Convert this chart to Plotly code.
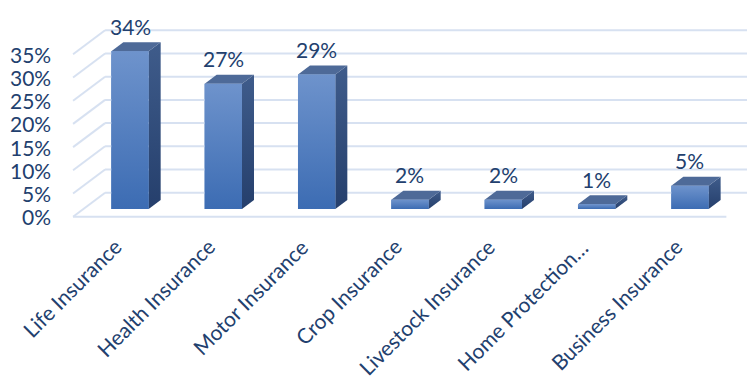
import plotly.graph_objects as go

# ---- data ----
categories = ["Life Insurance", "Health Insurance", "Motor Insurance", "Crop Insurance",
              "Livestock Insurance", "Home Protection…", "Business Insurance"]
shares = [34, 27, 29, 2, 2, 1, 5]
grid_values = [0, 5, 10, 15, 20, 25, 30, 35]
grid_labels = ["0%", "5%", "10%", "15%", "20%", "25%", "30%", "35%"]

# ---- layout geometry (pixels) ----
W, H = 747, 376
PX_PER_CAT = 93.33            # horizontal pixels per category
PX_PER_PCT = 4.64             # vertical pixels per percentage point
X0_PX = 130                   # pixel of the first category centre
Y0_PX = 209                   # pixel of 0% on the bar front plane
LABEL_TOP_PX = 231            # top edge of the slanted category label boxes

# depth planes expressed as vertical pixel offsets of the oblique projection
FLOOR_FRONT = -7.7
BAR_BACK = 9.0
WALL = 16.3
BAR_HALF = 0.2

TEXT = "#22406E"
GRID = "#D7E1F1"
FONT = "Lato"
FS = 21


def proj(x, y, depth):
    """Oblique projection: move a point back by `depth` pixels of depth."""
    return x + depth * 4.0 / 3.0 / PX_PER_CAT, y + depth / PX_PER_PCT


def poly(points):
    xs, ys = zip(*[proj(*p) for p in points])
    return list(xs) + [xs[0]], list(ys) + [ys[0]]


fig = go.Figure()

# walls: back gridlines, left wall diagonals and the floor front edge
n = len(categories)
for v in grid_values:
    xa, ya = proj(-0.5, v, WALL)
    xb, yb = proj(n, v, WALL)
    fig.add_trace(go.Scatter(x=[xa, xb], y=[ya, yb], mode="lines",
                             line=dict(color=GRID, width=2), hoverinfo="skip", showlegend=False))
    xc, yc = proj(-0.5, v, FLOOR_FRONT)
    fig.add_trace(go.Scatter(x=[xc, xa], y=[yc, ya], mode="lines",
                             line=dict(color=GRID, width=2), hoverinfo="skip", showlegend=False))
xf0, yf0 = proj(-0.5, 0, FLOOR_FRONT)
xf1, yf1 = proj(n - 0.5, 0, FLOOR_FRONT)
fig.add_trace(go.Scatter(x=[xf0, xf1], y=[yf0, yf1], mode="lines",
                         line=dict(color=GRID, width=2), hoverinfo="skip", showlegend=False))

# bar front faces
fig.add_trace(go.Bar(x=list(range(n)), y=shares, width=2 * BAR_HALF,
                     marker=dict(color="#4F7EC0", line=dict(width=0)),
                     hovertemplate="%{text}: %{y}%<extra></extra>", text=categories,
                     textposition="none", showlegend=False))

# 3D faces of each bar
for i, v in enumerate(shares):
    l, r = i - BAR_HALF, i + BAR_HALF
    # side
    sx, sy = poly([(r, 0, 0), (r, v, 0), (r, v, BAR_BACK), (r, 0, BAR_BACK)])
    fig.add_trace(go.Scatter(x=sx, y=sy, mode="lines", fill="toself", line=dict(width=0),
                             fillgradient=dict(type="vertical",
                                               colorscale=[[0, "#253F6C"], [1, "#3F5C8B"]]),
                             hoverinfo="skip", showlegend=False))
    # top
    tx, ty = poly([(l, v, 0), (r, v, 0), (r, v, BAR_BACK), (l, v, BAR_BACK)])
    fig.add_trace(go.Scatter(x=tx, y=ty, mode="lines", fill="toself", line=dict(width=0),
                             fillcolor="#4E6A98", hoverinfo="skip", showlegend=False))
    # front, shaded top to bottom
    fx, fy = poly([(l, 0, 0), (r, 0, 0), (r, v, 0), (l, v, 0)])
    fig.add_trace(go.Scatter(x=fx, y=fy, mode="lines", fill="toself", line=dict(width=0),
                             fillgradient=dict(type="vertical",
                                               colorscale=[[0, "#3C6CB3"], [1, "#6E93CC"]]),
                             hoverinfo="skip", showlegend=False))
    # value label
    fig.add_annotation(x=i, y=v, text=f"{v}%", showarrow=False, yshift=25,
                       xanchor="center", yanchor="middle",
                       font=dict(family=FONT, size=FS, color=TEXT))

# slanted category labels under the floor
label_y = (Y0_PX - LABEL_TOP_PX) / PX_PER_PCT
for i, cat in enumerate(categories):
    fig.add_annotation(x=i, y=label_y, text=cat, showarrow=False, textangle=-45,
                       xanchor="right", yanchor="top", xshift=-1,
                       font=dict(family=FONT, size=FS, color=TEXT))

# percentage labels beside the left wall
for v, lab in zip(grid_values, grid_labels):
    xl, yl = proj(-0.5, v, FLOOR_FRONT)
    fig.add_annotation(x=xl, y=yl, text=lab, showarrow=False, xanchor="right",
                       yanchor="middle", xshift=-20,
                       font=dict(family=FONT, size=FS, color=TEXT))

x_lo = (0 - X0_PX) / PX_PER_CAT
x_hi = (W - X0_PX) / PX_PER_CAT
y_hi = Y0_PX / PX_PER_PCT
y_lo = -(H - Y0_PX) / PX_PER_PCT

fig.update_layout(
    width=W, height=H,
    margin=dict(l=0, r=0, t=0, b=0),
    paper_bgcolor="white", plot_bgcolor="white",
    showlegend=False,
    xaxis=dict(range=[x_lo, x_hi], showgrid=False, zeroline=False, showline=False,
               showticklabels=False, ticks="", automargin=False),
    yaxis=dict(range=[y_lo, y_hi], showgrid=False, zeroline=False, showline=False,
               showticklabels=False, automargin=False),
)

fig.write_html("out.html")
